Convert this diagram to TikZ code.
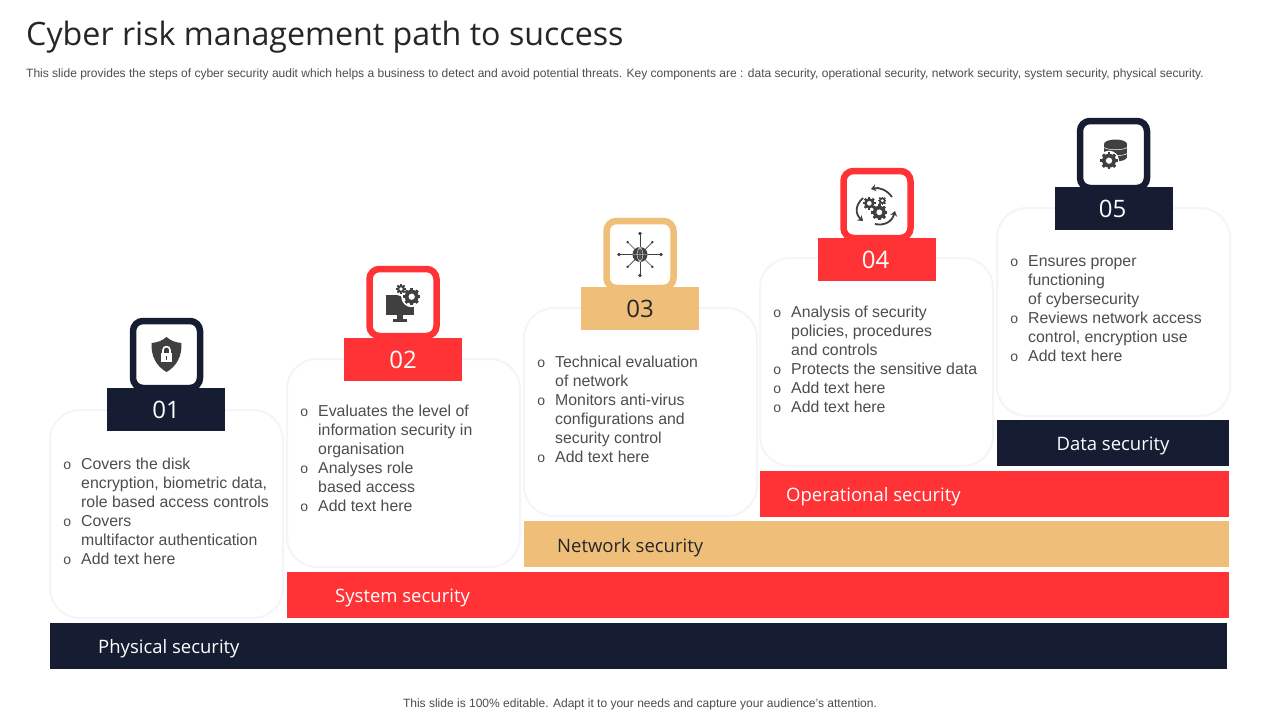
\documentclass[tikz,border=0pt]{standalone}
\usepackage{fontspec}
\setmainfont{Liberation Sans}
\newfontfamily\headfont{Open Sans}
\usetikzlibrary{arrows.meta, positioning, calc}
\definecolor{RiskNavy}{HTML}{161D33}
\definecolor{RiskRed}{HTML}{FF3336}
\definecolor{RiskTan}{HTML}{EFBF7A}
\definecolor{RiskInk}{HTML}{262626}
\definecolor{RiskBody}{HTML}{4D4D4D}
\definecolor{RiskIcon}{HTML}{404040}
\definecolor{RiskEdge}{HTML}{F5F5F7}
\newcommand{\bul}{\leavevmode\llap{\fontsize{14}{14}\selectfont o\hspace{10pt}}}
\newcommand{\cogicon}[3]{%
  \foreach \a in {0,45,...,315} {
    \fill[RiskIcon, rotate around={\a:(#1,#2)}] ($(#1,#2)+(-0.2*#3,-1.22*#3)$) rectangle ($(#1,#2)+(0.2*#3,1.22*#3)$);
  }
  \fill[RiskIcon] (#1,#2) circle[radius=#3];
  \fill[white] (#1,#2) circle[radius=0.45*#3];
}

\begin{document}
\begin{tikzpicture}[
    x=1pt, y=-1pt,
    cardbox/.style={
      draw=RiskEdge,
      line width=2pt,
      fill=white,
      rounded corners=30pt,
      anchor=north west,
      outer sep=0pt,
      minimum width=233pt,
      minimum height=208pt,
    },
    cardtext/.style={
      anchor=north west,
      inner sep=0pt,
      align=left,
      text=RiskBody,
      font=\fontsize{15.85}{19}\selectfont,
    },
    numbox/.style={
      anchor=north west,
      minimum width=118pt,
      minimum height=43pt,
      inner sep=0pt,
      outer sep=0pt,
      font=\headfont\fontsize{24}{24}\selectfont,
    },
    iconbox/.style={
      line width=6.5pt,
      fill=white,
      rounded corners=10pt,
      minimum width=67pt,
      minimum height=67pt,
    },
    barbox/.style={
      anchor=north west,
      minimum height=46pt,
      inner sep=0pt,
      outer sep=0pt,
    },
    barlabel/.style={
      anchor=west,
      inner sep=0pt,
      font=\headfont\fontsize{18.5}{24}\selectfont,
    },
  ]
    \useasboundingbox (0,0) rectangle (1280,720);
    \fill[white] (0,0) rectangle (1280,720);

    % heading
    \node[anchor=west, inner sep=0pt, text=RiskInk, font=\headfont\fontsize{32.2}{38}\selectfont] (title) at (26,37) {Cyber risk management path to success};
    \node[anchor=west, inner sep=0pt, text=RiskBody, font=\fontsize{12.02}{14}\selectfont] (subtitle) at (26,74) {This slide provides the steps of cyber security audit which helps a business to detect and avoid potential threats. Key components are : data security, operational security, network security, system security, physical security.};

    % cards
    \node[cardbox] (card1) at (50,410) {};
    \node[cardbox] (card2) at (287,359) {};
    \node[cardbox] (card3) at (524,308) {};
    \node[cardbox] (card4) at (760,258) {};
    \node[cardbox] (card5) at (997,208) {};

    % card texts
    \node[cardtext] (text1) at (81,458) {%
      \bul Covers the disk\\ encryption, biometric data,\\ role based access controls\\
      \bul Covers\\ multifactor authentication\\
      \bul Add text here};
    \node[cardtext] (text2) at (318,405) {%
      \bul Evaluates the level of\\ information security in\\ organisation\\
      \bul Analyses role\\ based access\\
      \bul Add text here};
    \node[cardtext] (text3) at (555,356) {%
      \bul Technical evaluation\\ of network\\
      \bul Monitors anti-virus\\ configurations and\\ security control\\
      \bul Add text here};
    \node[cardtext] (text4) at (791,306) {%
      \bul Analysis of security\\ policies, procedures\\ and controls\\
      \bul Protects the sensitive data\\
      \bul Add text here\\
      \bul Add text here};
    \node[cardtext] (text5) at (1028,255) {%
      \bul Ensures proper\\ functioning\\ of cybersecurity\\
      \bul Reviews network access\\ control, encryption use\\
      \bul Add text here};

    % icon frames
    \node[iconbox, draw=RiskNavy] (frame1) at (166.5,354.5) {};
    \node[iconbox, draw=RiskRed] (frame2) at (403,302.5) {};
    \node[iconbox, draw=RiskTan] (frame3) at (640,254.5) {};
    \node[iconbox, draw=RiskRed] (frame4) at (877,204.5) {};
    \node[iconbox, draw=RiskNavy] (frame5) at (1113.5,154.5) {};

    % number boxes
    \node[numbox, fill=RiskNavy, text=white] (num1) at (107,388) {01};
    \node[numbox, fill=RiskRed, text=white] (num2) at (344,338) {02};
    \node[numbox, fill=RiskTan, text=RiskInk] (num3) at (581,287) {03};
    \node[numbox, fill=RiskRed, text=white] (num4) at (818,238) {\hspace{-3pt}04};
    \node[numbox, fill=RiskNavy, text=white] (num5) at (1055,187) {\hspace{-3pt}05};

    % bars
    \node[barbox, fill=RiskNavy, minimum width=232pt] (bar5) at (997,420) {};
    \node[barbox, fill=RiskRed, minimum width=469pt] (bar4) at (760,471) {};
    \node[barbox, fill=RiskTan, minimum width=705pt] (bar3) at (524,521) {};
    \node[barbox, fill=RiskRed, minimum width=942pt] (bar2) at (287,572) {};
    \node[barbox, fill=RiskNavy, minimum width=1177pt] (bar1) at (50,623) {};
    \node[barlabel, text=white, anchor=center] (label5) at ([yshift=-2.5pt]bar5.center) {Data security};
    \node[barlabel, text=white] (label4) at (786,496.5) {Operational security};
    \node[barlabel, text=RiskInk] (label3) at (557,547.5) {Network security};
    \node[barlabel, text=white] (label2) at (335,598) {System security};
    \node[barlabel, text=white] (label1) at (98,649) {Physical security};

    % shield icon
    \fill[RiskIcon] (166.5,337) .. controls (171,341) and (176,342.5) .. (181.5,343)
      .. controls (182,356) and (177,366) .. (166.5,372)
      .. controls (156,366) and (151,356) .. (151.5,343)
      .. controls (157,342.5) and (162,341) .. cycle;
    \draw[white, line width=1.6pt] (163,353.5) -- (163,350) .. controls (163,345.5) and (170,345.5) .. (170,350) -- (170,353.5);
    \fill[white] (161,353) rectangle (172,362);
    \fill[RiskIcon] (165.7,356) rectangle (167.3,359.5);

    % monitor icon
    \fill[RiskIcon] (386,295) rectangle (414,315);
    \fill[RiskIcon] (397,315) rectangle (403,319);
    \fill[RiskIcon] (393,319) rectangle (407,322);
    \fill[white] (401,289) circle[radius=7] (411.7,296.7) circle[radius=10.5];
    \cogicon{411.7}{296.7}{7}
    \cogicon{401}{289}{4}

    % globe icon
    \foreach \a in {0,90,...,270} {
      \draw[RiskIcon, line width=0.7pt] (640,254.5) -- ++(\a:21);
      \fill[RiskIcon] ($(640,254.5)+(\a:21)$) circle[radius=1.8];
    }
    \foreach \a in {45,135,...,315} {
      \draw[RiskIcon, line width=0.7pt] (640,254.5) -- ++(\a:17.5);
      \fill[RiskIcon] ($(640,254.5)+(\a:17.5)$) circle[radius=1.3];
    }
    \fill[RiskIcon] (640,254.5) circle[radius=7.5];
    \draw[white, line width=0.4pt] (632.5,254.5) -- (647.5,254.5) (640,247) -- (640,262)
      (640,247) .. controls (636,251) and (636,258) .. (640,262)
      (640,247) .. controls (644,251) and (644,258) .. (640,262);

    % process icon
    \cogicon{879.3}{212.3}{6.5}
    \cogicon{869.3}{203.3}{5.2}
    \cogicon{882.3}{200.7}{3.4}
    \draw[RiskIcon, line width=1.8pt, -{Stealth[length=5pt,width=7pt]}] (892,197) .. controls (887,190) and (879,187) .. (871,189);
    \draw[RiskIcon, line width=1.8pt, -{Stealth[length=5pt,width=7pt]}] (863,198) .. controls (855,205) and (855,214) .. (863,221);
    \draw[RiskIcon, line width=1.8pt, -{Stealth[length=5pt,width=7pt]}] (875,224) .. controls (884,226) and (892,222) .. (895,211);

    % database icon
    \fill[RiskIcon] (1104,144) rectangle (1127,157);
    \fill[RiskIcon] (1115.5,144) ellipse[x radius=11.5, y radius=4.5];
    \fill[RiskIcon] (1115.5,150.5) ellipse[x radius=11.5, y radius=4.5];
    \fill[RiskIcon] (1115.5,157) ellipse[x radius=11.5, y radius=4.5];
    \draw[white, line width=0.5pt] (1104,147.5) .. controls (1108,150.5) and (1123,150.5) .. (1127,147.5)
      (1104,153.5) .. controls (1108,156.5) and (1123,156.5) .. (1127,153.5);
    \fill[white] (1109,160.7) circle[radius=10];
    \cogicon{1109}{160.7}{7}

    % footer
    \node[anchor=center, inner sep=0pt, text=RiskBody, font=\fontsize{12.02}{14}\selectfont] (footer) at (640,704) {This slide is 100\% editable. Adapt it to your needs and capture your audience's attention.};
  \end{tikzpicture}
\end{document}
